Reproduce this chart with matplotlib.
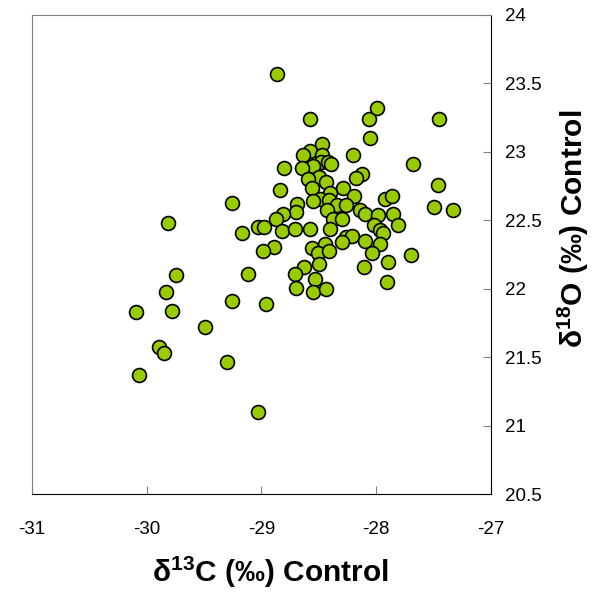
import matplotlib
matplotlib.use('Agg')
import matplotlib.pyplot as plt

plt.rcParams['font.family'] = ['Liberation Sans', 'DejaVu Sans']
plt.rcParams['mathtext.fontset'] = 'custom'
plt.rcParams['mathtext.rm'] = 'Liberation Sans'
plt.rcParams['mathtext.bf'] = 'Liberation Sans:bold'

# d13C / d18O control values
d13c = [-28.86, -28.58, -28.06, -27.99, -27.45, -28.05, -28.47, -28.58, -28.64, -28.47,
        -28.20, -27.68, -28.48, -28.42, -28.39, -28.55, -28.65, -28.80, -28.12, -28.18,
        -28.50, -28.59, -28.44, -28.56, -28.84, -28.29, -27.46, -28.40, -28.19, -27.92,
        -27.86, -28.49, -28.55, -28.41, -28.69, -28.34, -28.26, -27.50, -27.33, -29.26,
        -28.70, -28.81, -28.87, -28.43, -28.14, -28.10, -27.85, -27.98, -28.38, -28.30,
        -28.02, -27.81, -29.81, -27.97, -27.94, -29.03, -28.98, -28.82, -28.71, -28.58,
        -28.40, -29.17, -28.26, -28.21, -28.30, -28.10, -27.97, -28.89, -28.99, -28.56,
        -28.45, -28.51, -28.41, -28.04, -27.70, -27.90, -28.11, -28.50, -28.63, -28.71,
        -29.12, -29.74, -28.53, -27.91, -28.70, -28.55, -28.44, -29.83, -29.26, -28.96,
        -30.09, -29.78, -29.49, -29.89, -29.85, -29.30, -30.07, -29.03]
d18o = [23.57, 23.24, 23.24, 23.32, 23.24, 23.10, 23.06, 23.01, 22.98, 22.98,
        22.98, 22.91, 22.93, 22.93, 22.91, 22.90, 22.88, 22.88, 22.84, 22.81,
        22.82, 22.80, 22.78, 22.74, 22.72, 22.74, 22.76, 22.70, 22.68, 22.66,
        22.68, 22.66, 22.64, 22.65, 22.62, 22.61, 22.61, 22.60, 22.58, 22.63,
        22.56, 22.55, 22.51, 22.58, 22.58, 22.55, 22.55, 22.54, 22.51, 22.51,
        22.47, 22.47, 22.48, 22.43, 22.41, 22.45, 22.45, 22.42, 22.44, 22.44,
        22.44, 22.41, 22.38, 22.39, 22.34, 22.35, 22.33, 22.31, 22.28, 22.30,
        22.33, 22.26, 22.28, 22.26, 22.25, 22.20, 22.16, 22.18, 22.16, 22.11,
        22.11, 22.10, 22.07, 22.05, 22.01, 21.98, 22.00, 21.98, 21.91, 21.89,
        21.83, 21.84, 21.72, 21.58, 21.53, 21.47, 21.37, 21.10]

xticks = [-31, -30, -29, -28, -27]
yticks = [20.5, 21, 21.5, 22, 22.5, 23, 23.5, 24]
yticklabels = ['20.5', '21', '21.5', '22', '22.5', '23', '23.5', '24']

fig = plt.figure(figsize=(5.93, 5.92), dpi=100)
ax = fig.add_axes([0.0535, 0.1647, 0.7745, 0.81])

ax.scatter(d13c, d18o, s=100, c='#99cc00', edgecolors='black', linewidths=1.2, zorder=3)

ax.set_xlim(-31, -27)
ax.set_ylim(20.5, 24)
ax.set_xticks(xticks)
ax.set_xticklabels([str(t) for t in xticks])
ax.set_yticks(yticks)
ax.set_yticklabels(yticklabels)

ax.yaxis.tick_right()
ax.yaxis.set_label_position('right')
ax.tick_params(axis='x', direction='in', length=5.5, color='#808080', pad=19, labelsize=13.5)
ax.tick_params(axis='y', direction='in', length=5.5, color='#808080', pad=10, labelsize=13.5)

ax.spines['top'].set_color('#808080')
ax.spines['left'].set_color('#808080')
ax.spines['right'].set_color('black')
ax.spines['bottom'].set_color('black')

ax.set_xlabel(r'δ$^{\mathbf{13}}$C (‰) Control', fontsize=21.5, fontweight='bold')
ax.set_ylabel(r'δ$^{\mathbf{18}}$O (‰) Control', fontsize=21.5, fontweight='bold')
ax.xaxis.set_label_coords(0.52, -0.125)
ax.yaxis.set_label_coords(1.14, 0.554)

fig.savefig('out.png', dpi=100)
